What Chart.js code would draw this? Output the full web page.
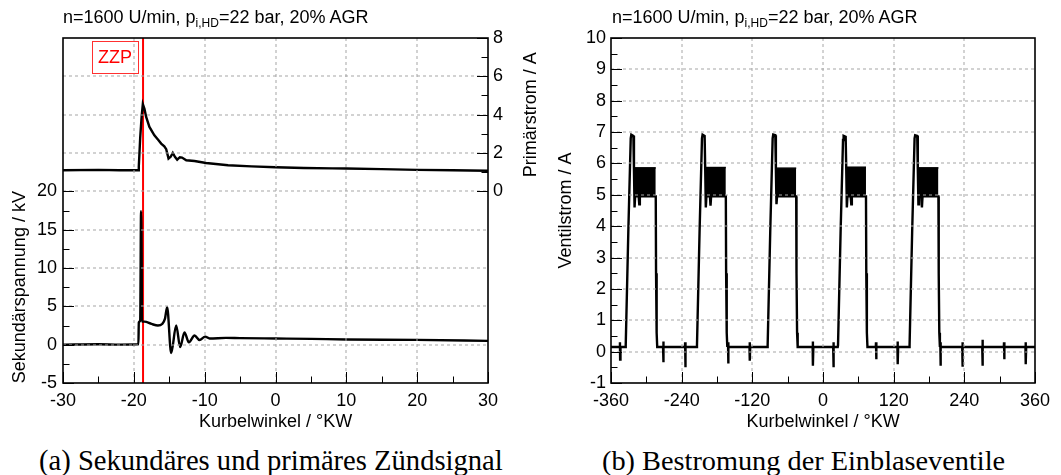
<!DOCTYPE html>
<html>
<head>
<meta charset="utf-8">
<script src="https://cdn.jsdelivr.net/npm/chart.js@4.4.1/dist/chart.umd.min.js"></script>
<style>
  html, body { margin: 0; padding: 0; background: #fff; }
  #page { position: relative; width: 1061px; height: 475px; overflow: hidden; }
  canvas { position: absolute; top: 0; }
  .titel { position: absolute; top: 8px; font: 18px "Liberation Sans", Arial, sans-serif; line-height: 18px; white-space: nowrap; color: #000; }
  .titel sub { font-size: 12px; line-height: 0; vertical-align: -4px; }
  .caption { position: absolute; top: 447px; font: 28.6px "Liberation Serif", "Times New Roman", serif; line-height: 28px; white-space: nowrap; color: #000; }
</style>
</head>
<body>
<div id="page">
  <canvas id="zuendung" width="545" height="440" style="left:0"></canvas>
  <canvas id="ventil" width="516" height="440" style="left:545px"></canvas>
  <div class="titel" style="left:63px">n=1600 U/min, p<sub>i,HD</sub>=22 bar, 20% AGR</div>
  <div class="titel" style="left:612px">n=1600 U/min, p<sub>i,HD</sub>=22 bar, 20% AGR</div>
  <div class="caption" style="left:39px">(a) Sekundäres und primäres Zündsignal</div>
  <div class="caption" style="left:602px; font-size:28.3px">(b) Bestromung der Einblaseventile</div>
</div>
<script>
// Zündzeitpunkt (°KW)
const zzpKW = -18.7;

// (a) Sekundärspannung in kV
const kwSek = [-30, -25, -22, -19.35, -19.3, -19.1, -18.98, -18.9, -18.85, -18.5, -17.5, -16.6, -16.0, -15.6, -15.3,
  -14.73, -14.02, -13.46, -12.85, -12.23, -11.43, -10.73, -9.93, -9.3, -7, -5, 0, 5, 10, 20, 30];
const sekundaerspannung = [0, 0.05, 0, 0.05, 2.9, 3.2, 17.4, 12, 3.0, 3.0, 2.7, 2.5, 2.7, 3.4, 4.9,
  -1.1, 2.5, -0.3, 1.6, 0.3, 1.2, 0.6, 1.05, 0.8, 0.88, 0.85, 0.8, 0.75, 0.68, 0.62, 0.5];

// (a) Primärstrom in A
const kwPrim = [-30, -25, -22, -19.4, -19.3, -19.1, -18.9, -18.73, -18.5, -18.26, -17.8, -17.1, -16.6, -16.14, -15.7,
  -15.43, -15.1, -14.8, -14.5, -14.2, -13.88, -13.5, -13.2, -12.6, -11.44, -9.8, -6.7, -3.4, 0, 4, 8, 10, 15, 20, 25, 30];
const primaerstrom = [1.1, 1.12, 1.1, 1.1, 1.3, 2.8, 3.9, 4.55, 4.3, 3.88, 3.36, 2.92, 2.7, 2.49, 2.35,
  2.2, 1.71, 1.8, 2.0, 1.8, 1.65, 1.78, 1.76, 1.62, 1.58, 1.48, 1.36, 1.3, 1.26, 1.22, 1.2, 1.19, 1.16, 1.12, 1.1, 1.07];

// (b) Ventilstrom in A (Kurbelwinkel, Strom)
const ventilTrace = [
  [-360, 0.15],
  [-345.1, 0.15], [-344.8, 0.3], [-344.5, -0.25], [-343.9, 0.15],
  [-335.5, 0.15], [-335, 0.2], [-330.5, 3.9], [-326.5, 6.8], [-325.5, 6.92], [-322, 6.88], [-321, 5.8], [-320, 4.6],
  [-319, 4.95], [-313, 4.95], [-312, 4.7], [-311, 4.95], [-284, 4.95], [-283.5, 2.5], [-282.5, 0.6], [-281.5, 0.15],
  [-271.6, 0.15], [-271.3, 0.32], [-271, -0.34], [-270.4, 0.15],
  [-234.4, 0.15], [-234.1, 0.3], [-233.8, -0.5], [-233.2, 0.15],
  [-214.5, 0.15], [-214, 0.2], [-209.5, 3.9], [-205.5, 6.8], [-204.5, 6.92], [-201, 6.88], [-200, 5.8], [-199, 4.6],
  [-198, 4.95], [-192, 4.95], [-191, 4.65], [-190, 4.95], [-165, 4.95], [-164.5, 2.5], [-163.5, 0.6], [-162.5, 0.15],
  [-161.6, 0.15], [-161.3, 0.3], [-161, -0.38], [-160.4, 0.15],
  [-124.8, 0.15], [-124.5, 0.3], [-124.2, -0.29], [-123.6, 0.15],
  [-94.5, 0.15], [-94, 0.2], [-89.5, 3.9], [-85.5, 6.8], [-84.5, 6.92], [-81, 6.9], [-80, 5.8], [-79, 4.7],
  [-78, 4.95], [-45.5, 4.95], [-45, 2.5], [-44, 0.6], [-43, 0.15],
  [-17.6, 0.15], [-17.3, 0.32], [-17, -0.45], [-16.4, 0.15],
  [17.3, 0.15], [17.6, 0.3], [17.9, -0.5], [18.5, 0.15],
  [25, 0.15], [25.5, 0.2], [30, 3.9], [34, 6.75], [35, 6.88], [38.5, 6.85], [39.5, 5.8], [40.5, 4.6],
  [41.5, 4.95], [47, 4.95], [48, 4.7], [49, 4.95], [73, 4.95], [73.5, 2.5], [74.5, 0.6], [75.5, 0.15],
  [89.7, 0.15], [90, 0.3], [90.3, -0.24], [90.9, 0.15],
  [126.4, 0.15], [126.7, 0.32], [127, -0.4], [127.6, 0.15],
  [146.5, 0.15], [147, 0.2], [151.5, 3.9], [155.5, 6.8], [156.5, 6.9], [160, 6.88], [161, 5.8], [162, 4.7],
  [163, 4.95], [167, 4.95], [168, 4.6], [169, 4.95], [196, 4.95], [196.5, 2.5], [197.5, 0.6], [198.5, 0.15],
  [199.2, 0.3], [199.5, -0.45], [200.1, 0.15],
  [236.4, 0.15], [236.7, 0.3], [237, -0.48], [237.6, 0.15],
  [270.4, 0.15], [270.7, 0.38], [271, -0.45], [271.6, 0.15],
  [307.1, 0.15], [307.4, 0.3], [307.7, -0.24], [308.3, 0.15],
  [343.8, 0.15], [344.1, 0.3], [344.4, -0.4], [345, 0.15],
  [360, 0.15]
];
// verrauschtes Stromband der Haltephase
const bandStart = [-321, -200, -80, 39.5, 161];
const bandEnd = [-284, -165, -45.5, 73, 196];
const bandTop = [5.86, 5.87, 5.85, 5.88, 5.86];
const bandBottom = [4.95, 4.95, 4.95, 4.95, 4.95];

const FONT = { family: '"Liberation Sans", Arial, sans-serif', size: 18 };
const GRID_GREY = '#a6a6a6';

const isMult = (v, m) => Math.abs(v / m - Math.round(v / m)) < 1e-6;

// Deko je Canvas (Gitter, Ticks, Achsentitel)
const deko = {
  zuendung: {
    gitterX: [-20, -10, 0, 10, 20],
    gitterY: [0, 5, 10, 15, 20, 25, 30, 35],
    marks: [
      { axis: 'x', side: 'bottom', from: -30, to: 30, step: 5, major: 10 },
      { axis: 'y', side: 'left', from: -5, to: 20, step: 2.5, major: 5 },
      { axis: 'y1', side: 'right', from: 0, to: 8, step: 1, major: 2 }
    ],
    titles: [
      { text: 'Sekundärspannung / kV', axis: 'y', from: -5, to: 20, side: 'left', offset: 43 },
      { text: 'Primärstrom / A', axis: 'y1', from: 0, to: 8, side: 'right', offset: 43 },
      { text: 'Kurbelwinkel / °KW', axis: 'x', from: -30, to: 30, side: 'bottom', offset: 39 }
    ],
    zzp: { value: zzpKW, text: 'ZZP' }
  },
  ventil: {
    gitterX: [-240, -120, 0, 120, 240],
    gitterY: [0, 1, 2, 3, 4, 5, 6, 7, 8, 9],
    marks: [
      { axis: 'x', side: 'bottom', from: -360, to: 360, step: 60, major: 120 },
      { axis: 'y', side: 'left', from: -1, to: 10, step: 0.5, major: 1 }
    ],
    titles: [
      { text: 'Ventilstrom / A', axis: 'y', from: -1, to: 10, side: 'left', offset: 45 },
      { text: 'Kurbelwinkel / °KW', axis: 'x', from: -360, to: 360, side: 'bottom', offset: 39 }
    ],
    zzp: null
  }
};

function gitterZeichnen(chart, spec) {
  const ctx = chart.ctx;
  const a = chart.chartArea;
  const sx = chart.scales.x, sy = chart.scales.y;
  ctx.save();
  ctx.globalAlpha = 1;
  ctx.globalCompositeOperation = 'source-over';
  ctx.beginPath();
  ctx.rect(0, 0, chart.width, chart.height);
  ctx.clip();
  ctx.strokeStyle = GRID_GREY;
  ctx.lineWidth = 1;
  ctx.lineDashOffset = 0;
  ctx.setLineDash([3, 3]);
  spec.gitterX.forEach(v => {
    const p = Math.round(sx.getPixelForValue(v));
    ctx.beginPath();
    ctx.moveTo(p, a.top);
    ctx.lineTo(p, a.bottom);
    ctx.stroke();
  });
  spec.gitterY.forEach(v => {
    const p = Math.round(sy.getPixelForValue(v));
    ctx.beginPath();
    ctx.moveTo(a.left, p);
    ctx.lineTo(a.right, p);
    ctx.stroke();
  });
  ctx.restore();
}

const rahmenPlugin = {
  id: 'rahmen',
  afterDatasetsDraw(chart) {
    const spec = deko[chart.canvas.id];
    const ctx = chart.ctx;
    const a = chart.chartArea;
    gitterZeichnen(chart, spec);

    ctx.save();
    ctx.setLineDash([]);
    ctx.strokeStyle = '#000';
    ctx.lineWidth = 1;
    spec.marks.forEach(m => {
      const sc = chart.scales[m.axis];
      for (let v = m.from; v <= m.to + 1e-9; v += m.step) {
        const len = isMult(v, m.major) ? 11 : 6.5;
        const p = Math.round(sc.getPixelForValue(v)) + 0.5;
        ctx.beginPath();
        if (m.side === 'bottom') { ctx.moveTo(p, a.bottom); ctx.lineTo(p, a.bottom - len); }
        else if (m.side === 'left') { ctx.moveTo(a.left, p); ctx.lineTo(a.left + len, p); }
        else { ctx.moveTo(a.right, p); ctx.lineTo(a.right - len, p); }
        ctx.stroke();
      }
    });
    ctx.lineWidth = 1.6;
    ctx.strokeRect(a.left, a.top, a.right - a.left, a.bottom - a.top);

    ctx.fillStyle = '#000';
    ctx.font = FONT.size + 'px ' + FONT.family;
    ctx.textAlign = 'center';
    ctx.textBaseline = 'middle';
    spec.titles.forEach(t => {
      const sc = chart.scales[t.axis];
      const mid = (sc.getPixelForValue(t.from) + sc.getPixelForValue(t.to)) / 2;
      ctx.save();
      if (t.side === 'bottom') {
        ctx.fillText(t.text, mid, a.bottom + t.offset);
      } else {
        const x = t.side === 'left' ? a.left - t.offset : a.right + t.offset;
        ctx.translate(x, mid);
        ctx.rotate(-Math.PI / 2);
        ctx.fillText(t.text, 0, 0);
      }
      ctx.restore();
    });

    if (spec.zzp) {
      const px = chart.scales.x.getPixelForValue(spec.zzp.value);
      const right = px - 5, w = 46, h = 32, top = a.top + 3;
      ctx.strokeStyle = '#ff3030';
      ctx.lineWidth = 1;
      ctx.strokeRect(Math.round(right - w) + 0.5, top + 0.5, w, h);
      ctx.fillStyle = '#ff0000';
      ctx.fillText(spec.zzp.text, right - w / 2, top + h / 2 + 1);
    }
    ctx.restore();
  }
};

function linie(xs, ys) {
  return xs.map((x, i) => ({ x: x, y: ys[i] }));
}

function achse(opts) {
  return {
    type: 'linear',
    position: opts.position,
    min: opts.min,
    max: opts.max,
    afterFit: opts.fit,
    border: { display: false },
    grid: { display: false, drawTicks: false },
    ticks: {
      stepSize: opts.step,
      autoSkip: false,
      maxRotation: 0,
      padding: opts.padding,
      color: '#000',
      font: FONT,
      callback: v => opts.label(v) ? String(v) : ''
    }
  };
}

const basisOptionen = {
  responsive: false,
  animation: false,
  devicePixelRatio: 1,
  plugins: { legend: { display: false }, tooltip: { enabled: false } },
  elements: { point: { radius: 0 }, line: { tension: 0 } }
};

// (a) Zündsignal
new Chart(document.getElementById('zuendung'), {
  type: 'line',
  data: {
    datasets: [
      { data: linie(kwSek, sekundaerspannung), yAxisID: 'y', borderColor: '#000', borderWidth: 2.4, fill: false,
        cubicInterpolationMode: 'monotone' },
      { data: linie(kwPrim, primaerstrom), yAxisID: 'y1', borderColor: '#000', borderWidth: 2.4, fill: false },
      { data: [{ x: zzpKW, y: -5 }, { x: zzpKW, y: 40 }], yAxisID: 'y', borderColor: '#ff0000', borderWidth: 2, fill: false }
    ]
  },
  options: Object.assign({}, basisOptionen, {
    layout: { padding: { top: 38, left: 0, right: 0, bottom: 0 } },
    scales: {
      x: achse({ position: 'bottom', min: -30, max: 30, step: 5, padding: 7,
        label: v => isMult(v, 10), fit: s => { s.height = 57; } }),
      y: achse({ position: 'left', min: -5, max: 40, step: 2.5, padding: 6,
        label: v => isMult(v, 5) && v <= 20, fit: s => { s.width = 63; } }),
      y1: achse({ position: 'right', min: -10, max: 8, step: 1, padding: 5,
        label: v => isMult(v, 2) && v >= 0, fit: s => { s.width = 57; } })
    }
  }),
  plugins: [rahmenPlugin]
});

// (b) Bestromung der Einblaseventile
const bandSets = bandStart.map((s, i) => ({
  data: [{ x: s, y: bandTop[i] }, { x: bandEnd[i], y: bandTop[i] }],
  borderColor: '#000',
  borderWidth: 1.5,
  backgroundColor: '#000',
  fill: { value: bandBottom[i] }
}));

new Chart(document.getElementById('ventil'), {
  type: 'line',
  data: {
    datasets: [
      { data: ventilTrace.map(p => ({ x: p[0], y: p[1] })), borderColor: '#000', borderWidth: 2.4, fill: false }
    ].concat(bandSets)
  },
  options: Object.assign({}, basisOptionen, {
    layout: { padding: { top: 38, left: 0, right: 26, bottom: 0 } },
    scales: {
      x: achse({ position: 'bottom', min: -360, max: 360, step: 60, padding: 7,
        label: v => isMult(v, 120), fit: s => { s.height = 57; } }),
      y: achse({ position: 'left', min: -1, max: 10, step: 0.5, padding: 5,
        label: v => isMult(v, 1), fit: s => { s.width = 66; } })
    },
    plugins: Object.assign({}, basisOptionen.plugins, { filler: { propagate: false } })
  }),
  plugins: [rahmenPlugin]
});
</script>
</body>
</html>
